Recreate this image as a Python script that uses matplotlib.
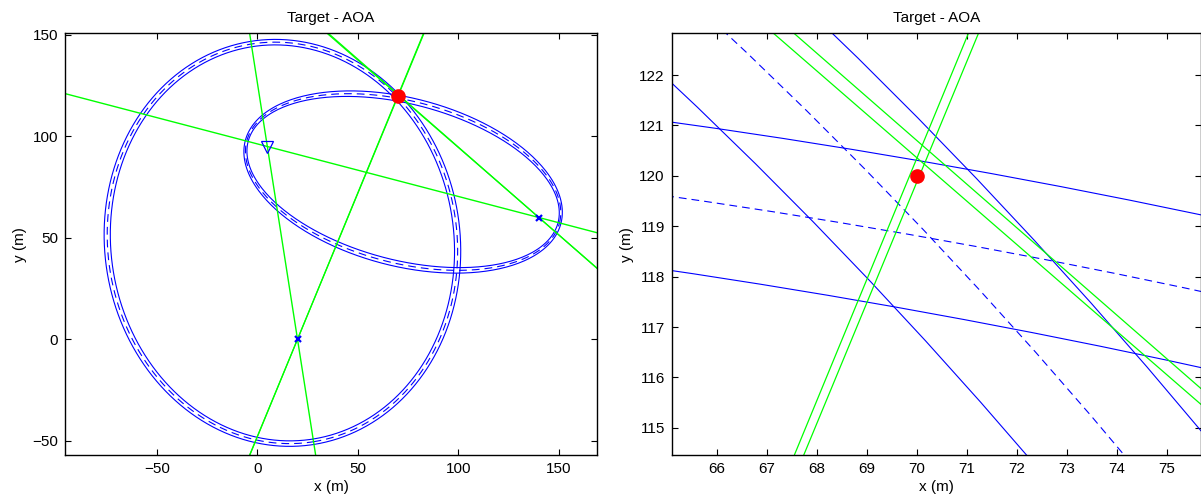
import numpy as np
import matplotlib.pyplot as plt

plt.rcParams['font.family'] = ['Liberation Sans', 'DejaVu Sans']
plt.rcParams['font.size'] = 11

# node positions (m)
tx = [5.0, 95.0]        # transmitter
rx1 = [20.0, 0.0]       # receiver 1
rx2 = [140.0, 60.0]     # receiver 2
target = [70.0, 120.0]

# bistatic range sums per receiver: lower bound, measured, upper bound (m)
range_sum_1 = [195.75, 198.45, 201.15]
range_sum_2 = [159.2, 160.65, 162.15]

# angle of arrival bounds at each receiver (deg)
aoa_1 = [67.36, 67.44]
aoa_2 = [139.07, 139.23]

# full view and close-up around the target
xlims = [[-95.6, 168.9], [65.10, 75.67]]
ylims = [[-57.05, 150.8], [114.46, 122.83]]
xticks = [[-50, 0, 50, 100, 150], list(range(66, 76))]
yticks = [[-50, 0, 50, 100, 150], list(range(115, 123))]


def ellipse(f1, f2, s, n=360):
    f1 = np.asarray(f1)
    f2 = np.asarray(f2)
    c = (f1 + f2) / 2
    d = f2 - f1
    cf = np.hypot(d[0], d[1]) / 2
    a = s / 2
    b = np.sqrt(a**2 - cf**2)
    th = np.arctan2(d[1], d[0])
    t = np.linspace(0, 2 * np.pi, n)
    u = a * np.cos(t)
    v = b * np.sin(t)
    return c[0] + u * np.cos(th) - v * np.sin(th), c[1] + u * np.sin(th) + v * np.cos(th)


fig = plt.figure(figsize=(12.01, 5.01), dpi=100)
ax1 = fig.add_axes([65 / 1201, 46 / 501, 532 / 1201, 421.7 / 501])
ax2 = fig.add_axes([671.7 / 1201, 46 / 501, 529 / 1201, 421.7 / 501])

dash = (0, (7, 4.5))

for i, ax in enumerate([ax1, ax2]):
    # range-sum ellipses
    for rx, sums in [(rx1, range_sum_1), (rx2, range_sum_2)]:
        for k, s in enumerate(sums):
            ex, ey = ellipse(tx, rx, s)
            ax.plot(ex, ey, color='blue', lw=0.8,
                    linestyle=dash if k == 1 else '-')

    # baselines transmitter -> receivers
    ax.axline(tx, rx1, color='#00ff00', lw=1.0)
    ax.axline(tx, rx2, color='#00ff00', lw=1.0)

    # AOA bearing lines
    for rx, angles in [(rx1, aoa_1), (rx2, aoa_2)]:
        for ang in angles:
            ax.axline(rx, slope=np.tan(np.radians(ang)), color='#00ff00', lw=0.9)

    ax.plot(rx1[0], rx1[1], 'x', color='blue', ms=4.5, mew=1.6)
    ax.plot(rx2[0], rx2[1], 'x', color='blue', ms=4.5, mew=1.6)
    ax.plot(tx[0], tx[1], 'v', color='blue', mfc='none', ms=8, mew=0.9)
    ax.plot(target[0], target[1], 'o', color='red', ms=9.5)

    ax.set_xlim(xlims[i])
    ax.set_ylim(ylims[i])
    ax.set_xticks(xticks[i])
    ax.set_yticks(yticks[i])
    ax.tick_params(direction='in', top=True, right=True, length=4, width=0.8, pad=5)
    for sp in ax.spines.values():
        sp.set_linewidth(1.0)
    ax.set_title('Target - AOA', fontsize=11, pad=8)
    ax.set_xlabel('x (m)', labelpad=3)
    ax.set_ylabel('y (m)', labelpad=4)

fig.savefig('out.png', dpi=100)
